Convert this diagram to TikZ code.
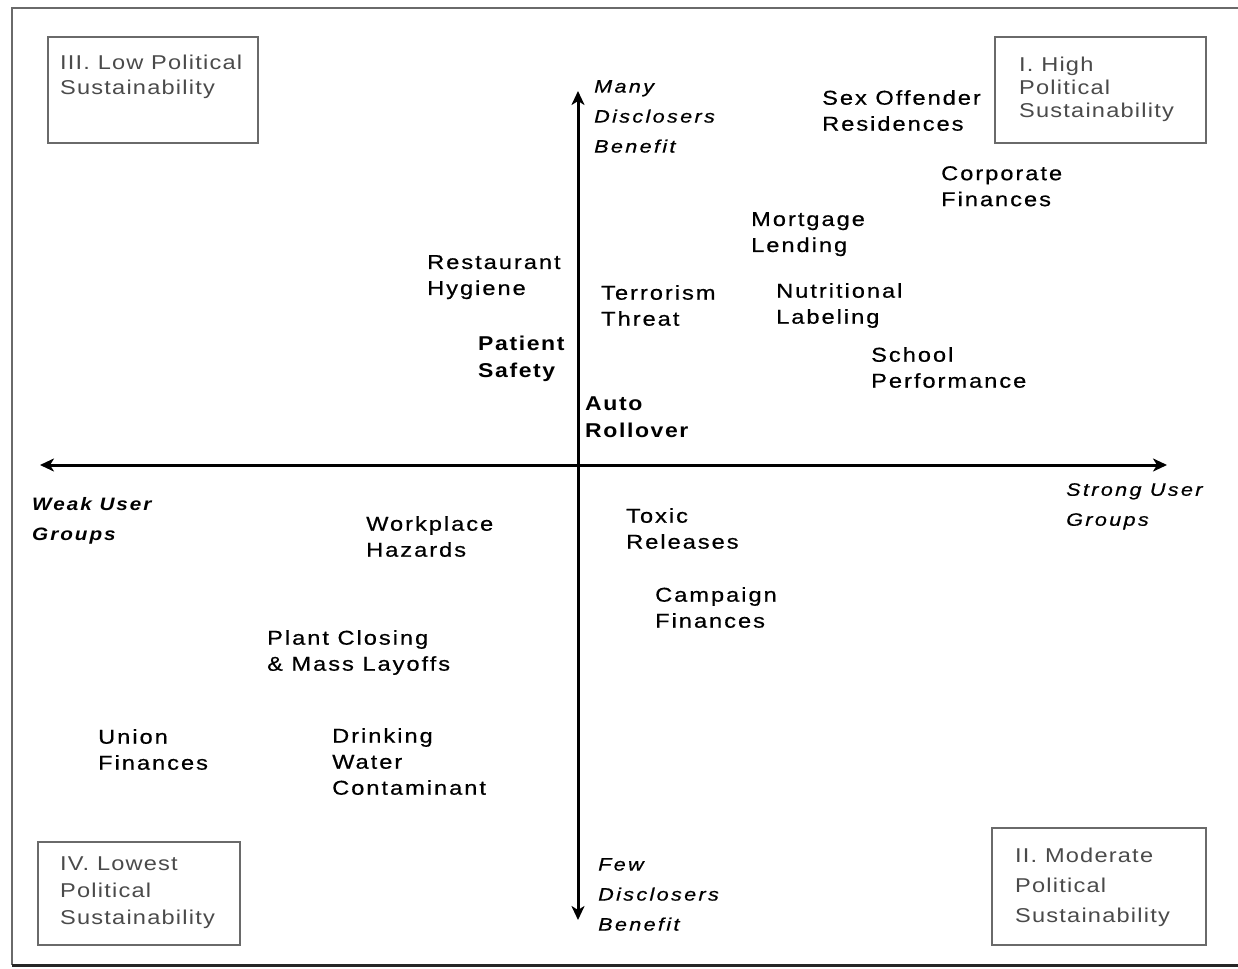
\documentclass[tikz,border=0pt]{standalone}
\usepackage{fontspec}
\setmainfont{Liberation Sans}
\newfontfamily\lblfont{Liberation Sans}[FakeStretch=1.18, LetterSpace=10, FakeBold=0.6]
\newfontfamily\boldlblfont{Liberation Sans Bold}[FakeStretch=1.15, LetterSpace=8]
\newfontfamily\boxfont{Liberation Sans}[FakeStretch=1.18, LetterSpace=6]
\newfontfamily\axfont{Liberation Sans Italic}[FakeStretch=1.2, LetterSpace=13, FakeBold=0.6]
\newfontfamily\axbfont{Liberation Sans Bold Italic}[FakeStretch=1.15, LetterSpace=11]
\usetikzlibrary{arrows.meta}
\definecolor{framegray}{HTML}{6A6A6A}
\definecolor{boxtext}{HTML}{4A4A4A}
\tikzset{
  lbl/.style={anchor=north west, inner sep=0pt, align=left, font=\lblfont\fontsize{20}{26}\selectfont},
  blbl/.style={lbl, font=\boldlblfont\fontsize{20}{27}\selectfont},
  axlbl/.style={anchor=north west, inner sep=0pt, align=left, font=\axfont\fontsize{18}{30}\selectfont},
  qbox/.style={draw=framegray, line width=1.5pt},
  qtext/.style={anchor=north west, inner sep=0pt, align=left, text=boxtext, font=\boxfont\fontsize{20}{25}\selectfont},
  axis/.style={line width=3pt, {Stealth[length=14pt,width=13pt,inset=4pt]}-{Stealth[length=14pt,width=13pt,inset=4pt]}}
}
\begin{document}
\begin{tikzpicture}[x=1pt,y=-1pt]
\useasboundingbox (0,0) rectangle (1238,968);
% outer frame
\draw[framegray, line width=2.5pt] (1245,8) -- (12,8) -- (12,965);
\draw[black!85, line width=3pt] (12,965) -- (1245,965);
% quadrant boxes
\draw[qbox] (48,37) rectangle (258,143);
\draw[qbox] (995,37) rectangle (1206,143);
\draw[qbox] (38,842) rectangle (240,945);
\draw[qbox] (992,828) rectangle (1206,945);
\node[qtext] (q3) at (60,55) {III. Low Political\\Sustainability};
\node[qtext, font=\boxfont\fontsize{20}{23}\selectfont] (q1) at (1019,57) {I. High\\Political\\Sustainability};
\node[qtext, font=\boxfont\fontsize{20}{27}\selectfont] (q4) at (60,857) {IV. Lowest\\Political\\Sustainability};
\node[qtext, font=\boxfont\fontsize{20}{30}\selectfont] (q2) at (1015,848) {II. Moderate\\Political\\Sustainability};
% axes
\coordinate (left) at (40,465);
\coordinate (right) at (1167,465);
\coordinate (top) at (578,91);
\coordinate (bottom) at (578,920);
\draw[axis] (left) -- (right);
\draw[axis] (bottom) -- (top);
% axis labels
\node[axlbl] (many) at (594,80) {Many\\Disclosers\\Benefit};
\node[axlbl] (few) at (598,858) {Few\\Disclosers\\Benefit};
\node[axlbl, font=\axbfont\fontsize{18}{30}\selectfont] (weak) at (32,497) {Weak User\\Groups};
\node[axlbl] (strong) at (1066,483) {Strong User\\Groups};
% items
\node[lbl] (sex) at (822,90) {Sex Offender\\Residences};
\node[lbl] (corp) at (941,166) {Corporate\\Finances};
\node[lbl] (mort) at (751,212) {Mortgage\\Lending};
\node[lbl] (rest) at (427,255) {Restaurant\\Hygiene};
\node[lbl] (terr) at (601,285) {Terrorism\\Threat};
\node[lbl] (nutr) at (776,283) {Nutritional\\Labeling};
\node[blbl] (pat) at (478,336) {Patient\\Safety};
\node[lbl] (school) at (871,347) {School\\Performance};
\node[blbl] (auto) at (585,397) {Auto\\Rollover};
\node[lbl] (toxic) at (626,508) {Toxic\\Releases};
\node[lbl] (work) at (366,516) {Workplace\\Hazards};
\node[lbl] (camp) at (655,587) {Campaign\\Finances};
\node[lbl] (plant) at (267,630) {Plant Closing\\\& Mass Layoffs};
\node[lbl] (union) at (98,729) {Union\\Finances};
\node[lbl] (drink) at (332,728) {Drinking\\Water\\Contaminant};
\end{tikzpicture}
\end{document}
